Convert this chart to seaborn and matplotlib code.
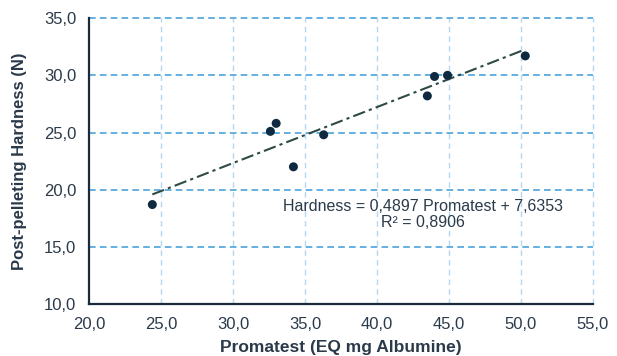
import matplotlib.pyplot as plt
import seaborn as sns
import pandas as pd
import numpy as np

# data
promatest = [24.4, 32.6, 33.0, 34.2, 36.3, 43.5, 44.0, 44.9, 50.3]
hardness = [18.7, 25.1, 25.8, 22.0, 24.8, 28.2, 29.9, 30.0, 31.7]
fit_slope = 0.4897
fit_intercept = 7.6353
r_squared = 0.8906

x_ticks = [20, 25, 30, 35, 40, 45, 50, 55]
y_ticks = [10, 15, 20, 25, 30, 35]

df = pd.DataFrame({'promatest': promatest, 'hardness': hardness})
xs = np.array([min(promatest), max(promatest)])
fit = pd.DataFrame({'promatest': xs, 'hardness': fit_slope * xs + fit_intercept})

sns.set_style('white')
plt.rcParams['font.family'] = ['Liberation Sans', 'DejaVu Sans']

fig = plt.figure(figsize=(6.17, 3.56), dpi=100)
ax = fig.add_axes([0.1442, 0.146, 0.8168, 0.803])

text_col = '#2b3a4a'
dark = '#0f2a40'

# grid (not clipped, so the edge lines at 35 and 55 show fully)
for x in x_ticks[1:]:
    ax.axvline(x, color='#b5d8f0', lw=1.0, ls=(0, (4, 3)), zorder=0, clip_on=False)
for y in y_ticks[1:]:
    ax.axhline(y, color='#4aa3dc', lw=1.2, ls=(0, (4, 2.5)), zorder=0, clip_on=False)

sns.lineplot(data=fit, x='promatest', y='hardness', ax=ax, color='#2e4a45',
             lw=1.5, ls=(0, (6, 2, 1.5, 2)), zorder=2)
sns.scatterplot(data=df, x='promatest', y='hardness', ax=ax, color=dark,
                s=42, edgecolor='none', zorder=3)

ax.set_xlim(20, 55)
ax.set_ylim(10, 35)
ax.set_xticks(x_ticks)
ax.set_yticks(y_ticks)
ax.set_xticklabels([f'{v:.1f}'.replace('.', ',') for v in x_ticks])
ax.set_yticklabels([f'{v:.1f}'.replace('.', ',') for v in y_ticks])
ax.tick_params(axis='x', labelsize=12, colors=text_col, length=0, pad=9)
ax.tick_params(axis='y', labelsize=12, colors=text_col, length=0, pad=9)

for s in ['top', 'right']:
    ax.spines[s].set_visible(False)
for s in ['left', 'bottom']:
    ax.spines[s].set_color('#1a2a3a')
    ax.spines[s].set_linewidth(1.6)

ax.set_xlabel('Promatest (EQ mg Albumine)', fontsize=12.5, fontweight='bold',
              color=text_col, labelpad=6)
ax.set_ylabel('Post-pelleting Hardness (N)', fontsize=12, fontweight='bold',
              color=text_col, labelpad=12)

eq = (f'Hardness = {fit_slope:.4f} Promatest + {fit_intercept:.4f}'.replace('.', ',')
      + '\n' + f'R² = {r_squared:.4f}'.replace('.', ','))
ax.text(43.2, 17.8, eq, ha='center', va='center', fontsize=11.5,
        color=text_col, linespacing=1.1)

fig.savefig('out.png', dpi=100)
